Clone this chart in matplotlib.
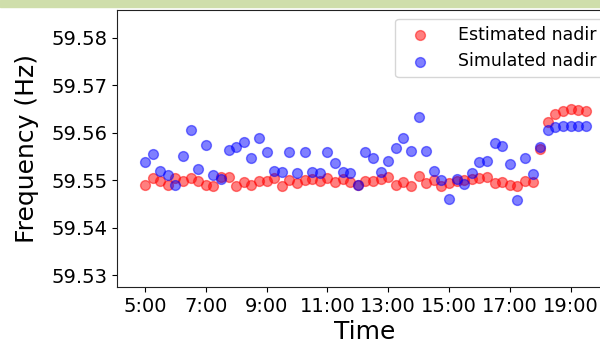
import numpy as np
import matplotlib
matplotlib.use("Agg")
import matplotlib.pyplot as plt
from matplotlib.patches import Rectangle
from matplotlib.ticker import FuncFormatter

#* sample times (15 min steps)
times = ["5:00", "5:15", "5:30", "5:45", "6:00", "6:15", "6:30", "6:45",
         "7:00", "7:15", "7:30", "7:45", "8:00", "8:15", "8:30", "8:45",
         "9:00", "9:15", "9:30", "9:45", "10:00", "10:15", "10:30", "10:45",
         "11:00", "11:15", "11:30", "11:45", "12:00", "12:15", "12:30", "12:45",
         "13:00", "13:15", "13:30", "13:45", "14:00", "14:15", "14:30", "14:45",
         "15:00", "15:15", "15:30", "15:45", "16:00", "16:15", "16:30", "16:45",
         "17:00", "17:15", "17:30", "17:45", "18:00", "18:15", "18:30", "18:45",
         "19:00", "19:15", "19:30"]

estimated = [59.5490, 59.5504, 59.5499, 59.5491, 59.5505, 59.5499, 59.5504, 59.5498,
             59.5491, 59.5488, 59.5506, 59.5506, 59.5488, 59.5497, 59.5489, 59.5498,
             59.5499, 59.5504, 59.5487, 59.5501, 59.5495, 59.5501, 59.5503, 59.5499,
             59.5504, 59.5497, 59.5503, 59.5497, 59.5490, 59.5498, 59.5498, 59.5503,
             59.5506, 59.5491, 59.5497, 59.5488, 59.5508, 59.5495, 59.5500, 59.5487,
             59.5494, 59.5498, 59.5501, 59.5503, 59.5504, 59.5507, 59.5494, 59.5496,
             59.5489, 59.5488, 59.5499, 59.5497, 59.5565, 59.5623, 59.5640, 59.5646,
             59.5650, 59.5648, 59.5646]

simulated = [59.5539, 59.5555, 59.5520, 59.5511, 59.5490, 59.5551, 59.5606, 59.5524,
             59.5574, 59.5511, 59.5503, 59.5564, 59.5571, 59.5580, 59.5547, 59.5590,
             59.5560, 59.5519, 59.5518, 59.5560, 59.5515, 59.5560, 59.5518, 59.5516,
             59.5560, 59.5536, 59.5518, 59.5516, 59.5490, 59.5559, 59.5548, 59.5518,
             59.5541, 59.5569, 59.5590, 59.5562, 59.5634, 59.5562, 59.5520, 59.5501,
             59.5460, 59.5503, 59.5492, 59.5516, 59.5539, 59.5541, 59.5579, 59.5572,
             59.5534, 59.5458, 59.5546, 59.5513, 59.5571, 59.5607, 59.5612, 59.5614,
             59.5614, 59.5614, 59.5614]

xticks = [5, 7, 9, 11, 13, 15, 17, 19]
yticks = [59.53, 59.54, 59.55, 59.56, 59.57, 59.58]

hours = np.array([int(t.split(':')[0]) + int(t.split(':')[1]) / 60.0 for t in times])

fig = plt.figure(figsize=(6.0, 3.45), dpi=100)
#* green strip at the top of the screenshot
fig.patches.append(Rectangle((0, 1 - 7 / 345.), 1, 7 / 345., transform=fig.transFigure,
                             color='#cfdeab', zorder=0))
ax = fig.add_axes([117 / 600., 58 / 345., 495 / 600., 277 / 345.])

ax.scatter(hours, estimated, s=50, c='red', alpha=0.5, label='Estimated nadir')
ax.scatter(hours, simulated, s=50, c='blue', alpha=0.5, label='Simulated nadir')

ax.set_xlim(4.08, 20.36)
ax.set_ylim(59.5275, 59.5859)
ax.set_xticks(xticks)
ax.xaxis.set_major_formatter(FuncFormatter(lambda v, p: '%d:00' % v))
ax.set_yticks(yticks)
ax.yaxis.set_major_formatter(FuncFormatter(lambda v, p: '%.2f' % v))
ax.tick_params(labelsize=14)
for s in ax.spines.values():
    s.set_color('#222222')

ax.set_xlabel('Time', fontsize=18, labelpad=3)
ax.set_ylabel('Frequency (Hz)', fontsize=18, labelpad=9)
ax.legend(loc='upper right', fontsize=12.5, borderaxespad=0.5, handletextpad=1.2)

fig.savefig('out.png', dpi=100)
